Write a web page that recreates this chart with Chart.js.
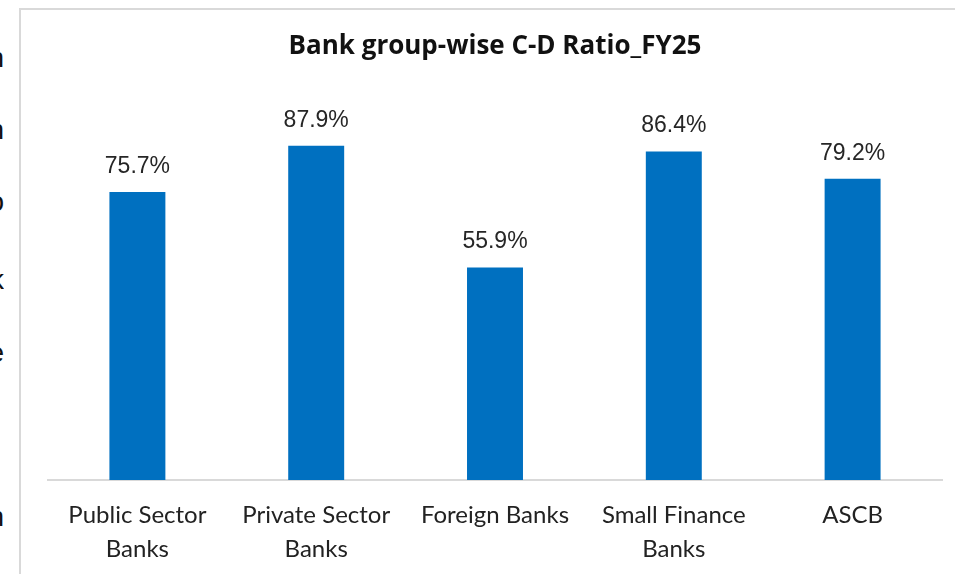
<!DOCTYPE html>
<html>
<head>
<meta charset="utf-8">
<script src="https://cdn.jsdelivr.net/npm/chart.js@4.4.1/dist/chart.umd.min.js"></script>
<style>
  html, body { margin: 0; padding: 0; background: #ffffff; }
  body { width: 955px; height: 574px; position: relative; overflow: hidden; }
  #frame {
    position: absolute; left: 19px; top: 8px; width: 950px; height: 580px;
    border-left: 2px solid #d9d9d9; border-top: 2px solid #d9d9d9;
  }
  #margin-text {
    position: absolute; left: 0; top: 0; width: 4px; height: 574px; overflow: hidden;
  }
  #margin-text span {
    position: absolute; right: 0; font-family: "Liberation Sans", sans-serif;
    font-size: 28px; line-height: 28px; color: #111;
  }
  #wrap { position: absolute; left: 0; top: 0; width: 955px; height: 574px; }
</style>
</head>
<body>
<div id="frame"></div>
<div id="margin-text">
  <span style="top:44px">n</span>
  <span style="top:116px">n</span>
  <span style="top:188px">o</span>
  <span style="top:266px">k</span>
  <span style="top:339px">e</span>
  <span style="top:503px">n</span>
</div>
<div id="wrap"><canvas id="chart" width="955" height="574"></canvas></div>
<script>
const chartTitle = "Bank group-wise C-D Ratio_FY25";
const categories = [
  ["Public Sector", "Banks"],
  ["Private Sector", "Banks"],
  ["Foreign Banks"],
  ["Small Finance", "Banks"],
  ["ASCB"]
];
const cdRatio = [75.7, 87.9, 55.9, 86.4, 79.2];

// Writes the percentage above each bar
const valueLabels = {
  id: "valueLabels",
  afterDatasetsDraw(chart) {
    const ctx = chart.ctx;
    const meta = chart.getDatasetMeta(0);
    ctx.save();
    ctx.font = '23px "Liberation Sans", Arial, sans-serif';
    ctx.fillStyle = "#262626";
    ctx.textAlign = "center";
    ctx.textBaseline = "alphabetic";
    meta.data.forEach((bar, i) => {
      ctx.fillText(cdRatio[i].toFixed(1) + "%", bar.x, bar.y - 19);
    });
    ctx.restore();
  }
};

new Chart(document.getElementById("chart"), {
  type: "bar",
  data: {
    labels: categories,
    datasets: [{
      data: cdRatio,
      backgroundColor: "#0070c0",
      borderWidth: 0,
      categoryPercentage: 1,
      barPercentage: 0.313
    }]
  },
  options: {
    responsive: false,
    animation: false,
    events: [],
    layout: { padding: { left: 48, right: 13, top: 0, bottom: 0 } },
    plugins: {
      legend: { display: false },
      tooltip: { enabled: false },
      title: {
        display: true,
        text: chartTitle,
        color: "#111111",
        font: { family: '"Open Sans", sans-serif', size: 26, weight: "bold", lineHeight: 1.2 },
        padding: { top: 31, bottom: 37.5 }
      }
    },
    scales: {
      x: {
        offset: true,
        grid: { display: false },
        border: { display: true, color: "#d9d9d9", width: 2 },
        ticks: {
          color: "#222222",
          font: { family: "Lato, sans-serif", size: 24, lineHeight: 1.43 },
          maxRotation: 0,
          autoSkip: false,
          padding: 10
        },
        afterFit(scale) { scale.height = 94; }
      },
      y: {
        display: false,
        min: 0,
        max: 100
      }
    }
  },
  plugins: [valueLabels]
});
</script>
</body>
</html>
